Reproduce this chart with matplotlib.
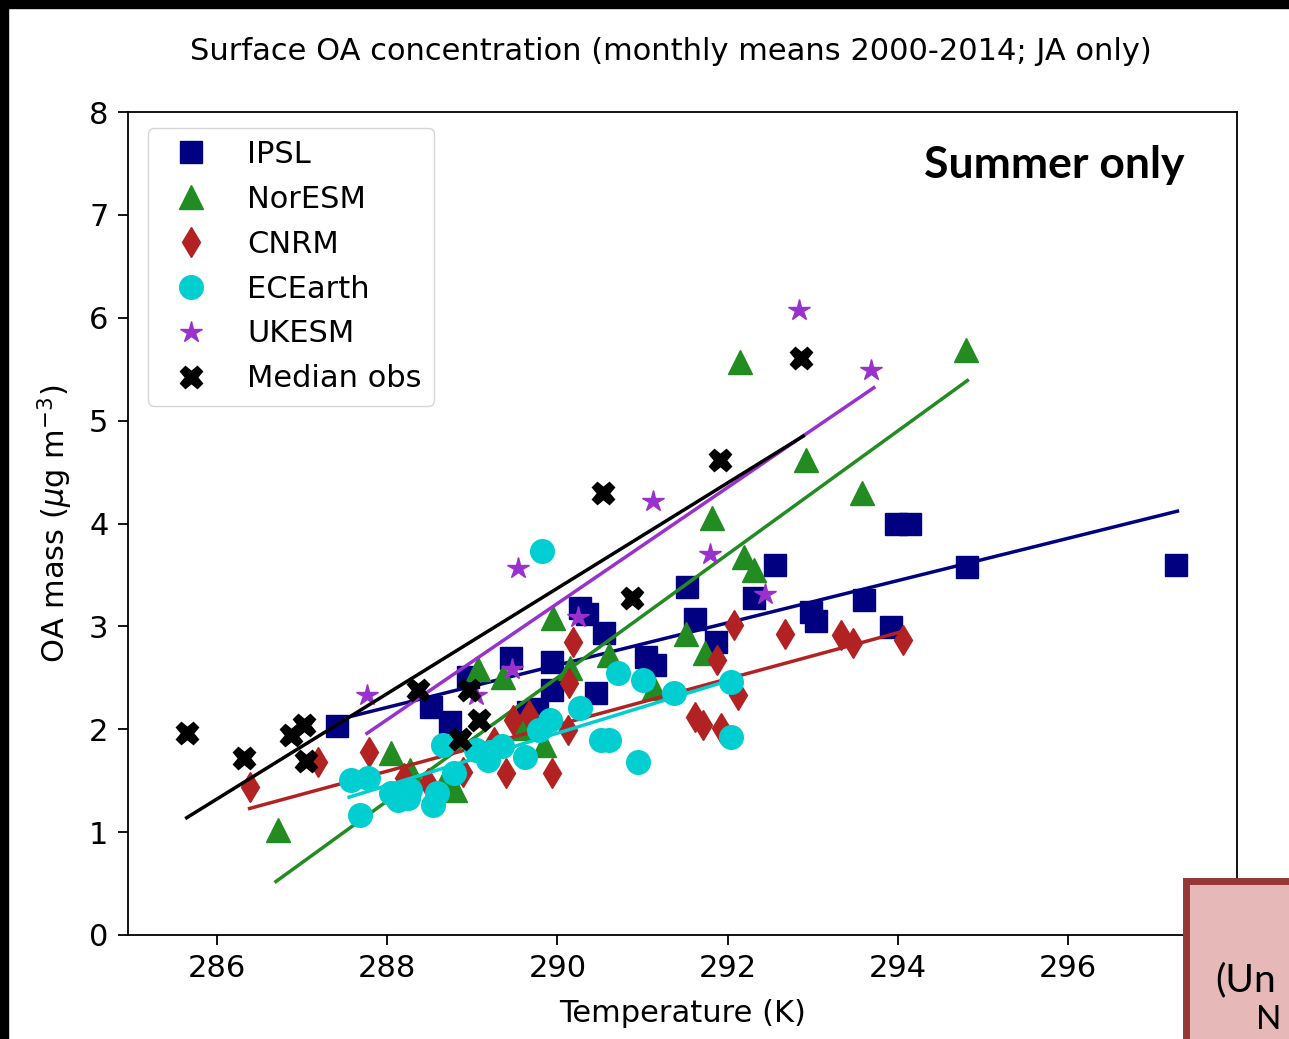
import numpy as np
import matplotlib.pyplot as plt
from matplotlib.patches import Rectangle

# IPSL
ipsl_t = [287.41, 288.51, 288.74, 288.95, 289.45, 289.65, 289.76, 289.94, 289.94, 290.45,
          290.27, 290.35, 290.55, 291.04, 291.15, 291.52, 291.62, 291.86, 292.31, 292.56,
          292.98, 293.04, 293.60, 293.92, 293.98, 294.14, 294.82, 297.27]
ipsl_oa = [2.03, 2.22, 2.07, 2.51, 2.69, 2.17, 2.20, 2.65, 2.38, 2.35,
           3.18, 3.12, 2.94, 2.70, 2.62, 3.38, 3.07, 2.85, 3.28, 3.60,
           3.14, 3.05, 3.26, 2.99, 4.00, 4.00, 3.58, 3.60]
# NorESM
nor_t = [286.71, 288.04, 288.26, 288.68, 288.80, 289.07, 289.36, 289.60, 289.84, 289.95,
         290.15, 290.60, 291.13, 291.51, 291.74, 291.82, 292.19, 292.31, 292.15, 292.92,
         293.58, 294.80]
nor_oa = [1.02, 1.77, 1.60, 1.51, 1.41, 2.59, 2.51, 2.01, 1.85, 3.08,
          2.60, 2.72, 2.40, 2.93, 2.74, 4.05, 3.67, 3.55, 5.57, 4.62,
          4.30, 5.69]
# CNRM
cnrm_t = [286.39, 287.18, 287.78, 288.19, 288.48, 288.89, 289.25, 289.39, 289.48, 289.66,
          289.94, 290.12, 290.13, 290.18, 291.62, 291.71, 291.92, 291.87, 292.12, 292.07,
          292.68, 293.33, 293.47, 294.06]
cnrm_oa = [1.44, 1.68, 1.78, 1.53, 1.48, 1.58, 1.88, 1.57, 2.09, 2.14,
           1.57, 1.99, 2.45, 2.85, 2.12, 2.04, 2.01, 2.67, 2.33, 3.01,
           2.93, 2.92, 2.84, 2.87]
# ECEarth
ece_t = [287.57, 287.77, 287.68, 288.04, 288.12, 288.27, 288.24, 288.54, 288.58, 288.65,
         288.78, 289.04, 289.18, 289.21, 289.35, 289.62, 289.78, 289.91, 290.27, 290.51,
         290.60, 290.71, 291.00, 290.95, 291.37, 292.04, 292.04, 289.82]
ece_oa = [1.51, 1.53, 1.17, 1.38, 1.31, 1.41, 1.33, 1.26, 1.38, 1.85,
          1.57, 1.80, 1.70, 1.78, 1.84, 1.73, 1.99, 2.09, 2.21, 1.90,
          1.90, 2.55, 2.48, 1.68, 2.35, 2.46, 1.92, 3.73]
# UKESM
uk_t = [287.76, 289.04, 289.47, 289.53, 290.24, 291.12, 291.79, 292.44, 292.84, 293.69]
uk_oa = [2.33, 2.33, 2.59, 3.57, 3.09, 4.22, 3.70, 3.31, 6.08, 5.49]
# Median obs
obs_t = [285.64, 286.31, 286.87, 287.02, 287.04, 288.36, 288.96, 289.08, 288.85, 290.54,
         290.88, 291.91, 292.86]
obs_oa = [1.96, 1.72, 1.94, 2.04, 1.69, 2.38, 2.38, 2.09, 1.91, 4.30,
          3.28, 4.62, 5.61]

# fitted lines (end points)
fit_t = {'IPSL': [287.40, 297.29], 'NorESM': [286.69, 294.82], 'CNRM': [286.38, 294.01],
         'ECEarth': [287.55, 292.04], 'UKESM': [287.76, 293.72], 'Median obs': [285.64, 292.89]}
fit_oa = {'IPSL': [2.09, 4.12], 'NorESM': [0.52, 5.39], 'CNRM': [1.23, 2.94],
          'ECEarth': [1.34, 2.48], 'UKESM': [1.96, 5.32], 'Median obs': [1.14, 4.85]}

series = [
    ('IPSL', ipsl_t, ipsl_oa, 'navy', 's', 16),
    ('NorESM', nor_t, nor_oa, 'forestgreen', '^', 17),
    ('CNRM', cnrm_t, cnrm_oa, 'firebrick', 'd', 15),
    ('ECEarth', ece_t, ece_oa, 'darkturquoise', 'o', 17),
    ('UKESM', uk_t, uk_oa, 'darkorchid', '*', 16),
    ('Median obs', obs_t, obs_oa, 'black', 'X', 16),
]

fig = plt.figure(figsize=(12.89, 10.39), dpi=100)
ax = fig.add_axes([128/1289, 1-935/1039, (1237-128)/1289, (935-112)/1039])

for name, t, oa, col, mk, ms in series:
    ax.plot(t, oa, linestyle='none', marker=mk, color=col, markersize=ms, label=name)
    ax.plot(fit_t[name], fit_oa[name], color=col, lw=2.5)

ax.set_xlim(284.95, 297.99)
ax.set_ylim(0, 8)
ax.set_xticks([286, 288, 290, 292, 294, 296])
ax.set_yticks(range(9))
ax.tick_params(labelsize=22, length=7, width=1.3, pad=7)
for s in ax.spines.values():
    s.set_linewidth(1.3)
ax.set_xlabel('Temperature (K)', fontsize=22, labelpad=11)
ax.set_ylabel(r'OA mass ($\mu$g m$^{-3}$)', fontsize=22, labelpad=10)

ax.legend(loc='upper left', fontsize=22, numpoints=1, handletextpad=0.85,
          labelspacing=0.52, borderpad=0.4, borderaxespad=0,
          bbox_to_anchor=(0.018, 0.981))

fig.text(671/1289, 1-52/1039, 'Surface OA concentration (monthly means 2000-2014; JA only)',
         ha='center', va='center', fontsize=22)
ax.text(0.953, 0.936, 'Summer only', transform=ax.transAxes, ha='right', va='center',
        fontsize=32, fontweight='bold', family='Lato')

# black slide edges and the cut-off pink box
fig.patches.append(Rectangle((0, 1-8/1039), 1, 8/1039, transform=fig.transFigure,
                             color='black', zorder=10))
fig.patches.append(Rectangle((0, 0), 8/1289, 1, transform=fig.transFigure,
                             color='black', zorder=10))
fig.patches.append(Rectangle((1186/1289, -0.05), 0.2, 1-881/1039 + 0.05, transform=fig.transFigure,
                             facecolor='#e6b9b8', edgecolor='#953735', lw=5, zorder=10))
fig.text(1215/1289, 1-980/1039, '(Un', fontsize=28, family='Lato', va='center', zorder=11)
fig.text(1256/1289, 4/1039, 'N', fontsize=24, family='Lato', va='bottom', zorder=11)

fig.savefig('out.png', dpi=100)
